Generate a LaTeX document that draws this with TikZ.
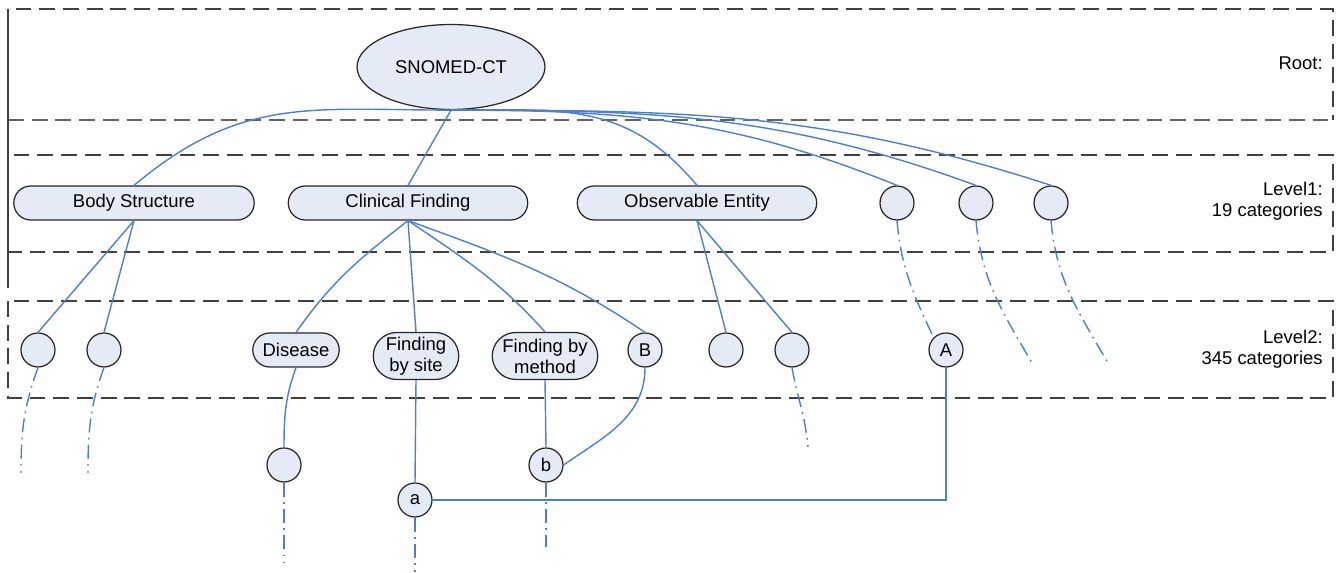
\documentclass[tikz,border=0pt]{standalone}
\usepackage{fontspec}
\setmainfont{Liberation Sans}
\usetikzlibrary{shapes.geometric,shapes.misc}
\definecolor{nodefill}{HTML}{E4EAF6}
\definecolor{linkblue}{HTML}{4F7FC6}
\definecolor{boxgray}{HTML}{404040}

\begin{document}
\begin{tikzpicture}[x=0.02cm, y=0.02cm,
  cat/.style={draw=black!85, fill=nodefill, rounded rectangle, line width=0.7pt, minimum height=0.68cm, inner sep=1pt},
  leaf/.style={draw=black!85, fill=nodefill, circle, line width=0.7pt, minimum size=0.68cm, inner sep=0pt},
  link/.style={draw=linkblue, line width=0.8pt},
  more/.style={link, dash pattern=on 8pt off 3pt on 1pt off 3pt},
  lvl/.style={draw=boxgray, line width=1.4pt, dash pattern=on 9pt off 4.5pt}]

  \fontsize{10.5}{12}\selectfont

  \useasboundingbox (0,0) rectangle (1339,-573);

  %% level bands
  \draw[lvl] (8,-120) -- (8,-9) -- (1333,-9) -- (1333,-120);
  \draw[lvl, draw=black!62] (8,-120) -- (1333,-120);
  \draw[lvl] (8,-155) rectangle (1333,-252);
  \draw[lvl] (8,-301) rectangle (1333,-398);
  \draw[boxgray, line width=0.8pt] (8,-9) -- (8,-288);

  \node[anchor=east, inner sep=0pt] (rootlbl) at (1323,-63) {Root:};
  \node[anchor=east, inner sep=0pt, align=right] (lvla) at (1323,-201) {Level1:\\19 categories};
  \node[anchor=east, inner sep=0pt, align=right] (lvlb) at (1323,-349) {Level2:\\345 categories};

  %% root
  \node[ellipse, draw=black!85, fill=nodefill, line width=0.7pt, minimum width=3.76cm, minimum height=1.7cm] (snomed) at (451,-67) {SNOMED-CT};

  %% level 1
  \node[cat, minimum width=4.88cm] (body) at (134,-203) {Body Structure};
  \node[cat, minimum width=4.86cm] (clin) at (408,-203) {Clinical Finding};
  \node[cat, minimum width=4.86cm] (obs) at (697,-203) {Observable Entity};
  \node[leaf] (ua) at (897,-203) {};
  \node[leaf] (ub) at (976,-203) {};
  \node[leaf] (uc) at (1051,-203) {};

  %% level 2
  \node[leaf] (ba) at (38,-350) {};
  \node[leaf] (bb) at (104,-350) {};
  \node[cat, minimum width=1.8cm] (dis) at (296,-350) {Disease};
  \node[cat, minimum width=1.78cm, minimum height=0.94cm, align=center] (site) at (416,-356) {Finding\\by site};
  \node[cat, minimum width=2.18cm, minimum height=0.94cm, align=center] (meth) at (545,-356) {Finding by\\method};
  \node[leaf] (bigb) at (645,-350) {B};
  \node[leaf] (oa) at (726,-350) {};
  \node[leaf] (ob) at (792,-350) {};
  \node[leaf] (biga) at (946,-350) {A};

  %% below
  \node[leaf] (dc) at (284,-465) {};
  \node[leaf] (smb) at (546,-465) {b};
  \node[leaf] (sma) at (415,-500) {a};

  \coordinate (ubend) at (1032,-363);
  \coordinate (ucend) at (1108,-363);
  \coordinate (baend) at (21,-473);
  \coordinate (bbend) at (88,-473);
  \coordinate (obend) at (808,-447);
  \coordinate (dcend) at (284,-563);
  \coordinate (smaend) at (415,-572);
  \coordinate (smbend) at (546,-547);

  %% root -> level 1
  \draw[link] (snomed.south) to[out=180,in=40,looseness=1.1] (body.north);
  \draw[link] (snomed.south) -- (clin.north);
  \draw[link] (snomed.south) to[out=0,in=130,looseness=1.1] (obs.north);
  \draw[link] (snomed.south) to[out=0,in=158] (ua.north);
  \draw[link] (snomed.south) to[out=0,in=160] (ub.north);
  \draw[link] (snomed.south) to[out=0,in=162] (uc.north);

  %% level 1 -> level 2
  \draw[link] (body.south) -- (ba.north);
  \draw[link] (body.south) -- (bb.north);
  \draw[link] (clin.south) to[out=218,in=55] (dis.north);
  \draw[link] (clin.south) -- (site.north);
  \draw[link] (clin.south) to[out=-34,in=132] (meth.north);
  \draw[link] (clin.south) to[out=-20,in=146] (bigb.north);
  \draw[link] (obs.south) -- (oa.north);
  \draw[link] (obs.south) -- (ob.north);
  \draw[more] (ua.south) to[out=-85,in=115] (biga.north west);
  \draw[more] (ub.south) to[out=-85,in=120] (ubend);
  \draw[more] (uc.south) to[out=-85,in=120] (ucend);

  %% level 2 -> below
  \draw[more] (ba.south) to[out=250,in=90] (baend);
  \draw[more] (bb.south) to[out=250,in=90] (bbend);
  \draw[more] (ob.south) to[out=-80,in=95] (obend);
  \draw[link] (dis.south) to[out=-110,in=90] (dc.north);
  \draw[link] (site.south) -- (sma.north);
  \draw[link] (meth.south) -- (smb.north);
  \draw[link] (bigb.south) to[out=-90,in=35] (smb.east);
  \draw[link] (biga.south) |- (sma.east);
  \draw[more] (dc.south) -- (dcend);
  \draw[more] (sma.south) -- (smaend);
  \draw[more] (smb.south) -- (smbend);
\end{tikzpicture}
\end{document}
